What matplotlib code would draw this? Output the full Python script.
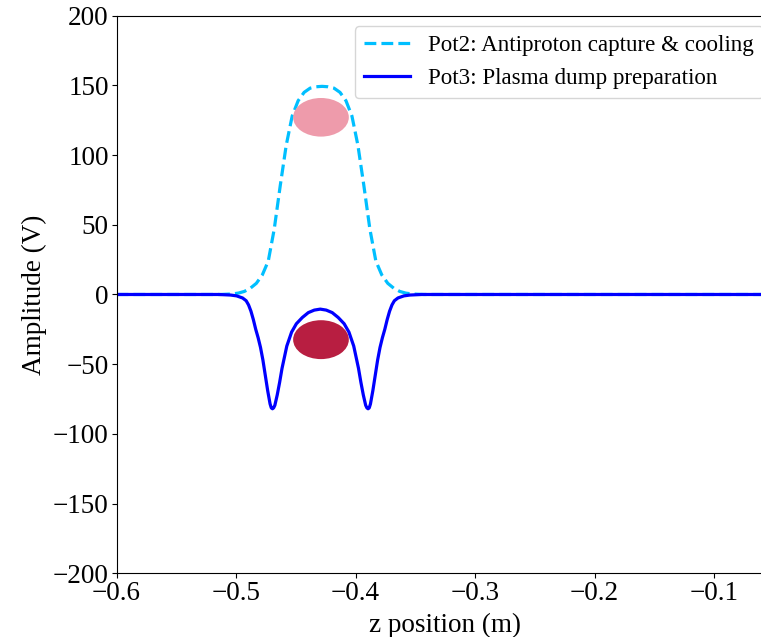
import matplotlib
matplotlib.use("Agg")
import matplotlib.pyplot as plt
from matplotlib.patches import Ellipse

plt.rcParams['font.family'] = ['Liberation Serif', 'DejaVu Serif']
plt.rcParams['mathtext.fontset'] = 'stix'

# Pot2: Antiproton capture & cooling
z_pot2 = [-0.600, -0.513, -0.503, -0.498, -0.493, -0.488, -0.483, -0.478, -0.473,
          -0.468, -0.463, -0.458, -0.453, -0.448, -0.443, -0.438, -0.433, -0.428,
          -0.423, -0.418, -0.413, -0.408, -0.403, -0.398, -0.393, -0.388, -0.383,
          -0.378, -0.373, -0.368, -0.363, -0.358, -0.353, -0.343, -0.050]
v_pot2 = [0.0, 0.0, 0.4, 1.0, 2.2, 4.5, 8.0, 14.0, 24.0,
          47.0, 78.0, 107.0, 128.0, 139.0, 145.0, 148.0, 149.0, 149.3,
          149.0, 148.0, 145.0, 139.0, 128.0, 107.0, 78.0, 47.0, 24.0,
          14.0, 8.0, 4.5, 2.2, 1.0, 0.4, 0.0, 0.0]

# Pot3: Plasma dump preparation
z_pot3 = [-0.6000, -0.5145, -0.5045, -0.4995, -0.4945, -0.4915, -0.4895, -0.4875,
          -0.4855, -0.4835, -0.4815, -0.4795, -0.4775, -0.4755, -0.4735, -0.4715,
          -0.4705, -0.4695, -0.4685, -0.4675, -0.4655, -0.4635, -0.4615, -0.4575,
          -0.4535, -0.4495, -0.4445, -0.4395, -0.4345, -0.4295, -0.4245, -0.4195,
          -0.4145, -0.4095, -0.4055, -0.4015, -0.3975, -0.3955, -0.3935, -0.3915,
          -0.3905, -0.3895, -0.3885, -0.3875, -0.3855, -0.3835, -0.3815, -0.3795,
          -0.3775, -0.3755, -0.3735, -0.3715, -0.3695, -0.3675, -0.3645, -0.3595,
          -0.3545, -0.3445, -0.0500]
v_pot3 = [0.0, 0.0, -0.4, -1.0, -2.5, -4.5, -7.5, -12.0,
          -18.0, -25.0, -31.0, -38.0, -47.0, -58.0, -69.0, -78.5,
          -81.3, -82.0, -81.3, -79.5, -72.0, -63.0, -53.0, -37.0,
          -27.0, -21.0, -16.5, -13.0, -11.2, -10.5, -11.2, -13.0,
          -16.5, -21.0, -27.0, -37.0, -53.0, -63.0, -72.0, -79.5,
          -81.3, -82.0, -81.3, -78.5, -69.0, -58.0, -47.0, -38.0,
          -31.0, -25.0, -18.0, -12.0, -7.5, -4.5, -2.5, -1.0,
          -0.4, 0.0, 0.0]

labels = ["Pot2: Antiproton capture & cooling", "Pot3: Plasma dump preparation"]

# particle clouds (centre z, centre V, width z, height V)
cloud_pbar = (-0.4289, 127.1, 0.0466, 27.7)
cloud_plasma = (-0.4289, -32.4, 0.0466, 27.9)

x_ticks = [-0.6, -0.5, -0.4, -0.3, -0.2, -0.1]
y_ticks = [-200, -150, -100, -50, 0, 50, 100, 150, 200]

fig = plt.figure(figsize=(7.61, 6.37), dpi=100)
ax = fig.add_axes([0.1531, 0.100, 0.8637, 0.8754])

ax.plot(z_pot2, v_pot2, linestyle='--', color='#00BFFF', lw=2.3, label=labels[0], zorder=2)
ax.plot(z_pot3, v_pot3, linestyle='-', color='#0000FF', lw=2.3, label=labels[1], zorder=2.1)

ax.add_patch(Ellipse((cloud_pbar[0], cloud_pbar[1]), cloud_pbar[2], cloud_pbar[3],
                     facecolor='#EE9BAB', edgecolor='none', zorder=3))
ax.add_patch(Ellipse((cloud_plasma[0], cloud_plasma[1]), cloud_plasma[2], cloud_plasma[3],
                     facecolor='#B81E41', edgecolor='none', zorder=3))

ax.set_xlim(-0.6, -0.05)
ax.set_ylim(-200, 200)
ax.set_xticks(x_ticks)
ax.set_yticks(y_ticks)
ax.tick_params(labelsize=19.5, pad=2)
ax.set_xlabel("z position (m)", fontsize=19.5, labelpad=5)
ax.set_ylabel("Amplitude (V)", fontsize=19.5, labelpad=4)

ax.legend(loc='upper right', fontsize=16.6, handlelength=2.0, borderaxespad=0.45)

fig.savefig("out.png", dpi=100)
